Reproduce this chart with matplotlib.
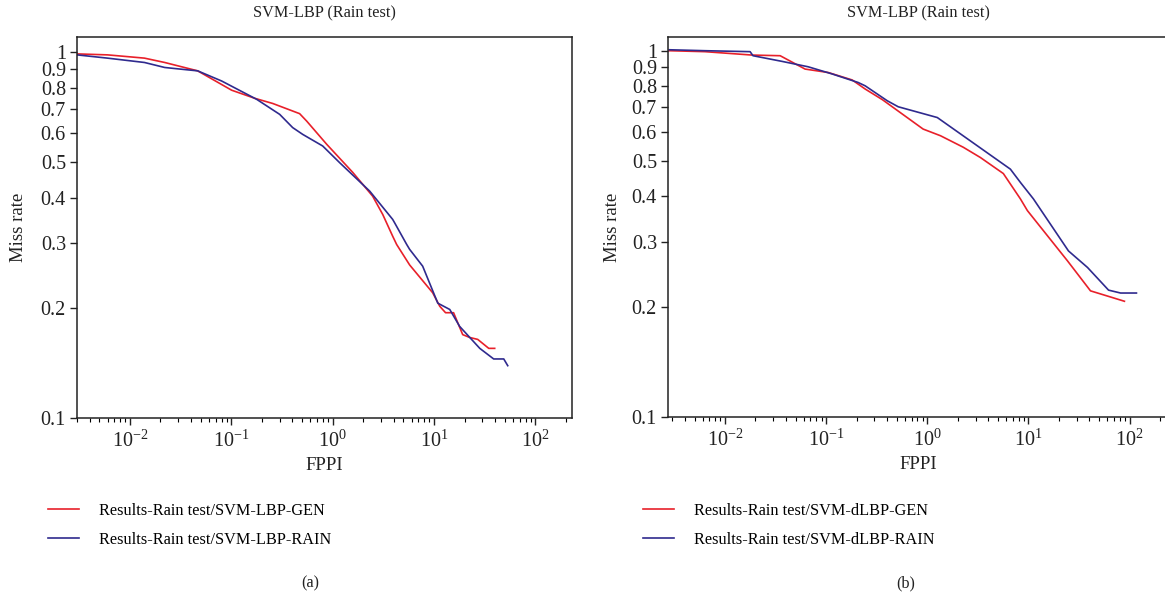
import matplotlib
matplotlib.use('Agg')
import matplotlib.pyplot as plt
from matplotlib.ticker import FixedLocator, FixedFormatter, LogLocator, NullFormatter

plt.rcParams['font.family'] = ['Liberation Serif', 'DejaVu Serif']
plt.rcParams['mathtext.fontset'] = 'custom'
plt.rcParams['mathtext.rm'] = 'Liberation Serif'
plt.rcParams['mathtext.it'] = 'Liberation Serif:italic'

# (a) SVM-LBP
a_gen_x = [0.003, 0.006, 0.0139, 0.022, 0.0465, 0.1007, 0.17, 0.256, 0.472, 0.554, 0.873,
           1.58, 2.48, 3.12, 3.91, 4.28, 5.75, 9.7, 11.4, 13.0, 15.6, 19.2, 22.5, 27.0, 34.7, 39.7]
a_gen_y = [0.989, 0.983, 0.963, 0.937, 0.889, 0.787, 0.748, 0.724, 0.679, 0.648, 0.560,
           0.469, 0.404, 0.360, 0.314, 0.298, 0.262, 0.220, 0.202, 0.194, 0.194, 0.169, 0.166, 0.164, 0.155, 0.155]
a_rain_x = [0.003, 0.006, 0.0139, 0.022, 0.0323, 0.0465, 0.0802, 0.178, 0.300, 0.403, 0.506, 0.797,
            1.17, 2.32, 3.91, 4.09, 5.38, 5.75, 7.73, 10.9, 14.3, 17.9, 28.3, 38.8, 48.8, 53.4]
a_rain_y = [0.983, 0.963, 0.937, 0.908, 0.898, 0.889, 0.834, 0.743, 0.676, 0.622, 0.596, 0.554,
            0.499, 0.417, 0.349, 0.3415, 0.298, 0.289, 0.260, 0.206, 0.198, 0.178, 0.155, 0.145, 0.145, 0.139]

# (b) SVM-dLBP
b_gen_x = [0.0028, 0.00634, 0.0185, 0.0351, 0.0619, 0.1047, 0.181, 0.243, 0.36, 0.91, 1.35,
           2.27, 3.35, 5.65, 8.33, 9.77, 24.3, 41.1, 89.0]
b_gen_y = [1.0, 0.994, 0.973, 0.969, 0.891, 0.872, 0.832, 0.786, 0.735, 0.611, 0.586,
           0.545, 0.511, 0.462, 0.394, 0.366, 0.267, 0.221, 0.207]
b_rain_x = [0.0028, 0.00634, 0.0177, 0.0189, 0.0367, 0.0663, 0.1147, 0.207, 0.243, 0.402, 0.516,
            1.256, 6.63, 8.33, 11.2, 24.9, 38.4, 62.0, 81.5, 117.0]
b_rain_y = [1.006, 1.0, 0.994, 0.969, 0.935, 0.904, 0.864, 0.819, 0.802, 0.730, 0.703,
            0.657, 0.475, 0.437, 0.394, 0.284, 0.256, 0.222, 0.218, 0.218]

y_ticks = [0.1, 0.2, 0.3, 0.4, 0.5, 0.6, 0.7, 0.8, 0.9, 1.0]
y_labels = ['0.1', '0.2', '0.3', '0.4', '0.5', '0.6', '0.7', '0.8', '0.9', '1']

red = '#e8202a'
blue = '#2f2a8e'
ink = '#222222'
fs = 11.7       # title, legend
lfs = 13.5      # axis labels
tfs = 14.5      # tick labels

W, H = 1165, 597
fig = plt.figure(figsize=(W / 100, H / 100), dpi=100)

panels = [
    dict(rect=[77, 37, 495, 381], xlim=(0.003, 230), ylim=(0.1, 1.1),
         gx=a_gen_x, gy=a_gen_y, rx=a_rain_x, ry=a_rain_y,
         labels=['Results-Rain test/SVM-LBP-GEN', 'Results-Rain test/SVM-LBP-RAIN'],
         leg_x=48, tag='(a)', tag_x=310, ylab_x=18),
    dict(rect=[668, 37, 500, 380], xlim=(0.00273, 240), ylim=(0.1, 1.09),
         gx=b_gen_x, gy=b_gen_y, rx=b_rain_x, ry=b_rain_y,
         labels=['Results-Rain test/SVM-dLBP-GEN', 'Results-Rain test/SVM-dLBP-RAIN'],
         leg_x=643, tag='(b)', tag_x=906, ylab_x=612),
]

for p in panels:
    l, t, w, h = p['rect']
    ax = fig.add_axes([l / W, 1 - (t + h) / H, w / W, h / H])
    ax.plot(p['gx'], p['gy'], color=red, lw=1.2, label=p['labels'][0])
    ax.plot(p['rx'], p['ry'], color=blue, lw=1.2, label=p['labels'][1])
    ax.set_xscale('log')
    ax.set_yscale('log')
    ax.set_xlim(*p['xlim'])
    ax.set_ylim(*p['ylim'])
    ax.yaxis.set_major_locator(FixedLocator(y_ticks))
    ax.yaxis.set_major_formatter(FixedFormatter(y_labels))
    ax.yaxis.set_minor_locator(FixedLocator([]))
    ax.xaxis.set_major_locator(LogLocator(base=10, numticks=10))
    ax.xaxis.set_minor_locator(LogLocator(base=10, subs=range(2, 10), numticks=10))
    ax.xaxis.set_minor_formatter(NullFormatter())
    ax.tick_params(labelsize=tfs, colors=ink, direction='out')
    ax.tick_params(axis='y', pad=3)
    ax.tick_params(axis='x', pad=4)
    ax.tick_params(which='major', length=5, width=1)
    ax.tick_params(which='minor', length=3, width=0.8)
    for s in ax.spines.values():
        s.set_linewidth(1.1)
        s.set_color(ink)
    ax.set_title('SVM-LBP (Rain test)', fontsize=fs, pad=14, color=ink)
    ax.set_xlabel('FPPI', fontsize=lfs, labelpad=4, color=ink)
    ax.set_ylabel('Miss rate', fontsize=lfs, color=ink)
    ax.yaxis.set_label_coords((p['ylab_x'] + 9 - l) / w, 0.5)
    fig.legend(handles=ax.get_lines(), labels=p['labels'], loc='upper left',
               bbox_to_anchor=(p['leg_x'] / W, 1 - 503 / H), frameon=False, fontsize=fs,
               handlelength=1.9, handletextpad=1.25, labelspacing=0.8, borderpad=0,
               borderaxespad=0)
    fig.text(p['tag_x'] / W, 1 - 583 / H, p['tag'], ha='center', va='center', fontsize=fs,
             color=ink)

fig.savefig('out.png', dpi=100)
